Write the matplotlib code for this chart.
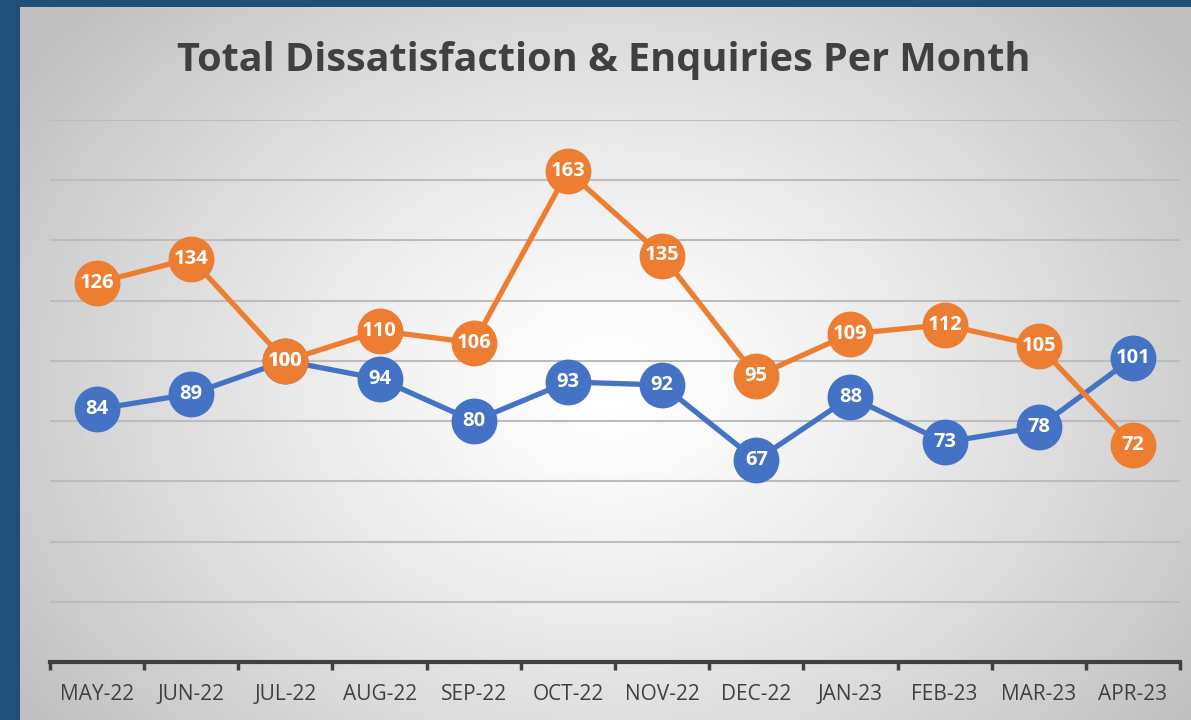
import numpy as np
import matplotlib.pyplot as plt

months = ["MAY-22", "JUN-22", "JUL-22", "AUG-22", "SEP-22", "OCT-22",
          "NOV-22", "DEC-22", "JAN-23", "FEB-23", "MAR-23", "APR-23"]
dissatisfaction = [84, 89, 100, 94, 80, 93, 92, 67, 88, 73, 78, 101]
enquiries = [126, 134, 100, 110, 106, 163, 135, 95, 109, 112, 105, 72]

BLUE = "#4472C4"
ORANGE = "#ED7D31"
FRAME = "#1F4E79"
TEXT = "#404040"

fig = plt.figure(figsize=(11.91, 7.2), dpi=100)
fig.patch.set_facecolor(FRAME)

# chart area with radial gradient (white centre -> grey edges)
bg = fig.add_axes([20 / 1191, 0, 1 - 20 / 1191, 1 - 7 / 720])
W, H = 1171, 713
xx, yy = np.meshgrid(np.linspace(0, W, 400), np.linspace(0, H, 250))
r = np.sqrt(((xx - 590) / 720) ** 2 + ((yy - 380) / 560) ** 2)
shade = 1.0 - 0.25 * np.clip(r, 0, 1) ** 1.3
bg.imshow(shade, cmap="gray", vmin=0, vmax=1, extent=[0, W, 0, H],
          aspect="auto", origin="upper")
bg.set_axis_off()

ax = fig.add_axes([50 / 1191, 58 / 720, 1130 / 1191, 542 / 720])
ax.patch.set_alpha(0)

x = np.arange(len(months))
ax.set_xlim(-0.5, len(months) - 0.5)
ax.set_ylim(0, 180)
ax.set_yticks(np.arange(0, 181, 20))
ax.yaxis.grid(True, color="#bcbcbc", linewidth=1.5)
ax.set_axisbelow(True)
ax.tick_params(axis="y", left=False, labelleft=False)

for s in ["top", "right", "left"]:
    ax.spines[s].set_visible(False)
ax.spines["bottom"].set_color(TEXT)
ax.spines["bottom"].set_linewidth(3)

ax.set_xticks(x)
ax.set_xticklabels(months, fontsize=15, color=TEXT, family="Open Sans")
ax.set_xticks(np.arange(-0.5, len(months)), minor=True)
ax.tick_params(axis="x", which="major", length=0, pad=16)
ax.tick_params(axis="x", which="minor", length=6, width=2.5, color=TEXT)

for vals, col in [(dissatisfaction, BLUE), (enquiries, ORANGE)]:
    ax.plot(x, vals, color=col, linewidth=3.8, marker="o", markersize=32,
            markeredgecolor=col, clip_on=False, solid_capstyle="round")
    for xi, v in zip(x, vals):
        ax.text(xi, v, str(v), ha="center", va="center", color="white",
                fontsize=14.5, fontweight="bold", family="Open Sans")

fig.text(604 / 1191, 1 - 60 / 720, "Total Dissatisfaction & Enquiries Per Month",
         ha="center", va="center", fontsize=28.5, fontweight="bold",
         color=TEXT, family="Open Sans")

fig.savefig("out.png", dpi=100, facecolor=fig.get_facecolor())
